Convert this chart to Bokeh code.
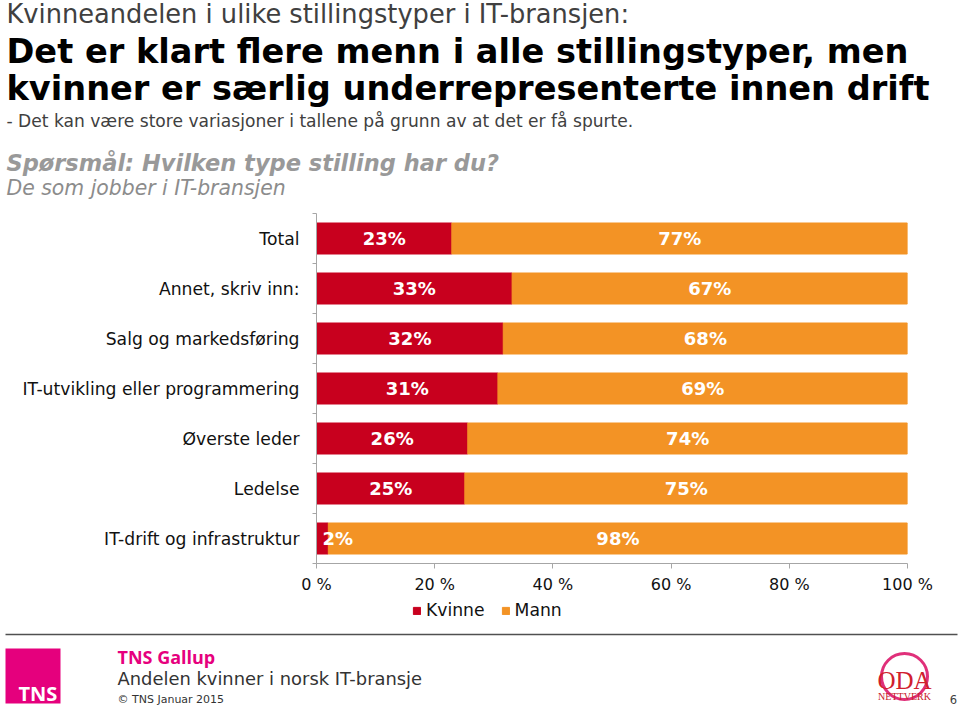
from bokeh.plotting import figure
from bokeh.models import ColumnDataSource, Range1d, FixedTicker, Legend
from bokeh.layouts import column
from bokeh.core.properties import value
from bokeh.embed import file_html
from bokeh.resources import INLINE

# ---------------- data ----------------
categories = ["Total", "Annet, skriv inn:", "Salg og markedsføring",
              "IT-utvikling eller programmering", "Øverste leder", "Ledelse",
              "IT-drift og infrastruktur"]
kvinne = [22.9, 33.1, 31.6, 30.7, 25.6, 25.1, 2.0]
mann = [77.1, 66.9, 68.4, 69.3, 74.4, 74.9, 98.0]
series_names = ["Kvinne", "Mann"]
x_ticks = [0, 20, 40, 60, 80, 100]
x_tick_labels = ["0 %", "20 %", "40 %", "60 %", "80 %", "100 %"]

RED = "#C8001E"
ORANGE = "#F39325"
AXIS_GRAY = "#A6A6A6"
FONT = "DejaVu Sans"

W = 960
TOP_H, MID_H, BOT_H = 205, 395, 108

# half of (ascent - descent) per font, to turn a baseline into a box centre
CENTER_K = {"DejaVu Sans": 0.346, "Open Sans": 0.388, "Liberation Serif": 0.338}


def text_fig(h, y0):
    f = figure(width=W, height=h, output_backend="svg", toolbar_location=None,
               x_range=Range1d(0, W), y_range=Range1d(y0 + h, y0),
               x_axis_type=None, y_axis_type=None, min_border=0,
               outline_line_color=None, background_fill_color="white",
               border_fill_color="white", frame_align=False)
    f.xgrid.visible = False
    f.ygrid.visible = False
    return f


def put(f, txt, x, baseline, size, color="#000000", font=FONT, style="normal",
        align="left"):
    yc = baseline - CENTER_K[font] * size
    f.text(x=[x], y=[yc], text=[txt], text_font=value(font),
           text_font_size=f"{size}px", text_color=color,
           text_font_style=style, text_align=align, text_baseline="middle")


# ---------------- header ----------------
top = text_fig(TOP_H, 0)
put(top, "Kvinneandelen i ulike stillingstyper i IT-bransjen:", 6, 22, 25.7, "#404040")
put(top, "Det er klart flere menn i alle stillingstyper, men", 6, 62.5, 33.6, "#000000", style="bold")
put(top, "kvinner er særlig underrepresenterte innen drift", 6, 100, 33.6, "#000000", style="bold")
put(top, "- Det kan være store variasjoner i tallene på grunn av at det er få spurte.", 6, 126, 17.1, "#404040")
put(top, "Spørsmål: Hvilken type stilling har du?", 6, 170, 22.5, "#999999", style="bold italic")
put(top, "De som jobber i IT-bransjen", 6, 195, 20.4, "#8C8C8C", style="italic")

# ---------------- chart ----------------
FL, FR, FT, FB = 316, 53, 8, 37
p = figure(width=W, height=MID_H, output_backend="svg", toolbar_location=None,
           x_range=Range1d(0, 100), y_range=Range1d(len(categories) - 0.5, -0.5),
           min_border_left=FL, min_border_right=FR, min_border_top=FT,
           min_border_bottom=FB, outline_line_color=None,
           background_fill_color="white", border_fill_color="white",
           frame_align=False)
p.xgrid.visible = False
p.ygrid.visible = False

ys = list(range(len(categories)))
src = ColumnDataSource(dict(y=ys, Kvinne=kvinne, Mann=mann))
bars = p.hbar_stack(series_names, y="y", height=0.62, color=[RED, ORANGE], source=src)

k_lbl = [f"{round(v)}%" for v in kvinne]
m_lbl = [f"{round(v)}%" for v in mann]
k_x = [max(v / 2, 3.6) for v in kvinne]
m_x = [k + m / 2 for k, m in zip(kvinne, mann)]
lsrc = ColumnDataSource(dict(x=k_x + m_x, y=ys + ys, t=k_lbl + m_lbl))
p.text(x="x", y="y", text="t", source=lsrc, text_color="white",
       text_font=value(FONT), text_font_style="bold", text_font_size="18px",
       text_align="center", text_baseline="middle")

ya = p.yaxis[0]
ya.ticker = FixedTicker(ticks=ys, minor_ticks=[i - 0.5 for i in range(len(categories) + 1)])
ya.major_label_overrides = {i: c for i, c in zip(ys, categories)}
ya.axis_line_color = AXIS_GRAY
ya.major_tick_out = 0
ya.major_tick_in = 0
ya.minor_tick_out = 4
ya.minor_tick_in = 0
ya.minor_tick_line_color = AXIS_GRAY
ya.major_label_standoff = 13
ya.major_label_text_font = FONT
ya.major_label_text_font_size = "17.2px"
ya.major_label_text_color = "#111111"

xa = p.xaxis[0]
xa.ticker = FixedTicker(ticks=x_ticks)
xa.major_label_overrides = dict(zip(x_ticks, x_tick_labels))
xa.axis_line_color = AXIS_GRAY
xa.major_tick_line_color = AXIS_GRAY
xa.major_tick_out = 5
xa.major_tick_in = 0
xa.minor_tick_line_color = None
xa.major_label_standoff = 6
xa.major_label_text_font = FONT
xa.major_label_text_font_size = "16px"
xa.major_label_text_color = "#111111"

# ---------------- footer (legend + branding) ----------------
y0 = TOP_H + MID_H
bot = text_fig(BOT_H, y0)
# legend swatches: same series, not drawn in this panel (legend only)
proxies = bot.hbar_stack(series_names, y="y", height=0.62, color=[RED, ORANGE],
                         source=src, visible=False)
lg = Legend(items=[(n, [r]) for n, r in zip(series_names, proxies)],
            orientation="horizontal", location=(412, BOT_H - (620 - y0)),
            glyph_width=9, glyph_height=9, label_standoff=5, spacing=16,
            padding=0, margin=0, border_line_color=None,
            background_fill_alpha=0, label_text_font=FONT,
            label_text_font_size="17.2px", label_text_color="#111111",
            label_height=20, click_policy="none")
bot.add_layout(lg)

bot.segment(x0=[5], y0=[634], x1=[957], y1=[634], line_color="#505050", line_width=1.5)
bot.quad(left=[5], right=[60], top=[648], bottom=[703], fill_color="#E5007D", line_color=None)
put(bot, "TNS", 18, 701, 20, "#FFFFFF", font="Open Sans", style="bold")
put(bot, "TNS Gallup", 117, 663, 18, "#E6007E", font="Open Sans", style="bold")
put(bot, "Andelen kvinner i norsk IT-bransje", 117, 684, 17.9, "#333333")
put(bot, "© TNS Januar 2015", 117, 703, 11, "#333333")
bot.circle(x=[904], y=[676], radius=23, fill_color=None, line_color="#E0307A", line_width=3)
put(bot, "ODA", 904, 688, 25, "#D0202E", font="Liberation Serif", align="center")
put(bot, "NETTVERK", 904, 699, 10, "#C8202A", font="Liberation Serif", align="center")
put(bot, "6", 953, 703, 11.5, "#404040", align="center")

layout = column(top, p, bot, spacing=0)
open("out.html", "w").write(file_html(layout, INLINE))
